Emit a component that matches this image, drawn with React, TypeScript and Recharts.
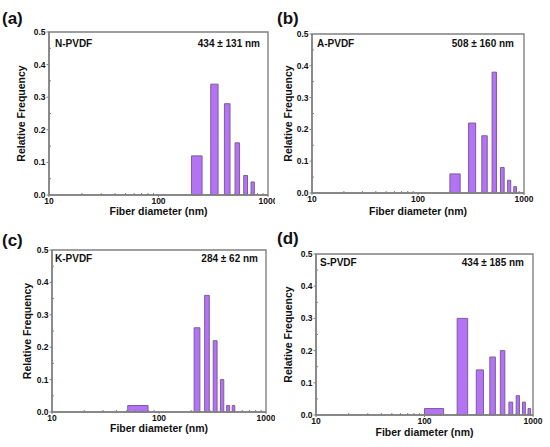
import React from 'react';
import { ComposedChart, XAxis, YAxis, ReferenceArea } from 'recharts';

// ---- data ----
const nStarts = [200, 300, 400, 500, 600, 700];
const nFreq = [0.12, 0.34, 0.28, 0.16, 0.06, 0.04];

const aStarts = [200, 300, 400, 500, 600, 700, 800];
const aFreq = [0.06, 0.22, 0.18, 0.38, 0.08, 0.04, 0.02];

const kStarts = [51, 213, 267, 321, 375, 429, 483];
const kFreq = [0.02, 0.26, 0.36, 0.22, 0.1, 0.02, 0.02];

const sStarts = [100, 200, 300, 400, 500, 600, 700, 800, 900];
const sFreq = [0.02, 0.3, 0.14, 0.18, 0.2, 0.04, 0.06, 0.04, 0.02];

const xTicks = [10, 20, 30, 40, 50, 60, 70, 80, 90, 100, 200, 300, 400, 500, 600, 700, 800, 900, 1000];
const xMajor = [10, 100, 1000];
const yTicks = [0, 0.05, 0.1, 0.15, 0.2, 0.25, 0.3, 0.35, 0.4, 0.45, 0.5];

const FONT = '"Liberation Sans", Arial, sans-serif';
const FILL = '#b473f5';
const STROKE = '#7d5c9c';
const FRAME = '#808080';
const TEXT = '#111';
const FRAME_W = 1.4;

const XTick = (props: any) => {
  const { x, y, payload } = props;
  const v = payload.value;
  const major = xMajor.includes(v);
  return (
    <g>
      <line x1={x} x2={x} y1={y} y2={major ? y + 2 : y - 2} stroke={FRAME} strokeWidth={1} />
      {major && (
        <text x={x} y={y + 3} dy="0.71em" textAnchor="middle" fontSize={8.5} fontWeight="bold" fontFamily={FONT} fill={TEXT}>
          {v}
        </text>
      )}
    </g>
  );
};

const YTick = (props: any) => {
  const { x, y, payload } = props;
  const v = payload.value;
  const major = Math.abs(v * 10 - Math.round(v * 10)) < 1e-6;
  return (
    <g>
      <line x1={x} x2={major ? x - 2.5 : x + 2} y1={y} y2={y} stroke={FRAME} strokeWidth={1} />
      {major && (
        <text x={x - 3.5} y={y} dy="0.35em" textAnchor="end" fontSize={8.5} fontWeight="bold" fontFamily={FONT} fill={TEXT}>
          {v.toFixed(1)}
        </text>
      )}
    </g>
  );
};

type PanelProps = {
  left: number; top: number; width: number; height: number;
  pl: number; pr: number; pt: number; pb: number;
  xBase: number; yLabelX: number;
  starts: number[]; freqs: number[]; barW: number;
};

const Panel = (p: PanelProps) => {
  const rows = p.starts.map((s, i) => ({ start: s, freq: p.freqs[i] }));
  const margin = {
    top: p.pt - p.top,
    right: p.left + p.width - p.pr,
    left: 0,
    bottom: p.top + p.height - p.xBase,
  };
  const line = { stroke: FRAME, strokeWidth: FRAME_W };
  return (
    <div style={{ position: 'absolute', left: p.left, top: p.top, width: p.width, height: p.height }}>
      <ComposedChart width={p.width} height={p.height} data={rows} margin={margin}>
        <XAxis
          dataKey="start"
          type="number"
          scale="log"
          domain={[10, 1000]}
          allowDataOverflow
          axisLine={line}
          height={p.xBase - p.pb}
          ticks={xTicks}
          interval={0}
          tickSize={0}
          tickMargin={0}
          tickLine={false}
          tick={<XTick />}
          label={{
            value: 'Fiber diameter (nm)',
            position: 'insideBottom',
            offset: 0,
            style: { fontSize: 10.5, fontWeight: 'bold', fontFamily: FONT, fill: TEXT },
          }}
        />
        <YAxis
          type="number"
          domain={[0, 0.5]}
          allowDataOverflow
          axisLine={line}
          width={p.pl - p.left}
          ticks={yTicks}
          interval={0}
          tickSize={0}
          tickMargin={0}
          tickLine={false}
          tick={<YTick />}
          label={{
            value: 'Relative Frequency',
            angle: -90,
            position: 'insideLeft',
            offset: p.yLabelX - p.left,
            style: { textAnchor: 'middle', fontSize: 10.5, fontWeight: 'bold', fontFamily: FONT, fill: TEXT },
          }}
        />
        {rows.map((r, i) => (
          <ReferenceArea
            key={i}
            x1={r.start}
            x2={r.start + p.barW}
            y1={0}
            y2={r.freq}
            fill={FILL}
            fillOpacity={1}
            stroke={STROKE}
            strokeWidth={1}
            ifOverflow="visible"
          />
        ))}
        <ReferenceArea x1={10} x2={1000} y1={0} y2={0.5} fill="none" fillOpacity={0} stroke={FRAME} strokeWidth={FRAME_W} ifOverflow="visible" />
      </ComposedChart>
    </div>
  );
};

type T = { t: string; x: number; y: number; size: number; anchor: string };

// HTML text positioned by its baseline
const HText = ({ o }: { o: T }) => {
  const top = o.y - 0.8465 * o.size;
  const style: React.CSSProperties = {
    position: 'absolute', top, fontSize: o.size, fontWeight: 'bold', fontFamily: FONT, color: TEXT,
    lineHeight: 1, whiteSpace: 'nowrap',
  };
  if (o.anchor === 'end') style.right = 550 - o.x;
  else style.left = o.x;
  return <div style={style}>{o.t}</div>;
};

const texts: T[] = [
  { t: '(a)', x: 2, y: 24, size: 17, anchor: 'start' },
  { t: '(b)', x: 277, y: 24, size: 17, anchor: 'start' },
  { t: '(c)', x: 2, y: 246, size: 17, anchor: 'start' },
  { t: '(d)', x: 277, y: 244, size: 17, anchor: 'start' },
  { t: 'N-PVDF', x: 55, y: 47, size: 10, anchor: 'start' },
  { t: '434 ± 131 nm', x: 260, y: 47, size: 10, anchor: 'end' },
  { t: 'A-PVDF', x: 317, y: 47, size: 10, anchor: 'start' },
  { t: '508 ± 160 nm', x: 514, y: 47, size: 10, anchor: 'end' },
  { t: 'K-PVDF', x: 55, y: 262, size: 10, anchor: 'start' },
  { t: '284 ± 62 nm', x: 258, y: 262, size: 10, anchor: 'end' },
  { t: 'S-PVDF', x: 320, y: 266, size: 10, anchor: 'start' },
  { t: '434 ± 185 nm', x: 524, y: 266, size: 10, anchor: 'end' },
];

export default function App() {
  return (
    <div style={{ position: 'absolute', left: 0, top: 0, width: 550, height: 447, background: '#fff' }}>
      {texts.map((o, i) => <HText key={i} o={o} />)}
      <Panel left={0} top={0} width={275} height={222} pl={49} pr={268} pt={32} pb={195} xBase={215} yLabelX={21}
        starts={nStarts} freqs={nFreq} barW={50} />
      <Panel left={275} top={0} width={275} height={222} pl={312} pr={524} pt={34} pb={193} xBase={215} yLabelX={288}
        starts={aStarts} freqs={aFreq} barW={50} />
      <Panel left={0} top={222} width={275} height={225} pl={52} pr={266} pt={250} pb={412} xBase={432} yLabelX={27}
        starts={kStarts} freqs={kFreq} barW={28} />
      <Panel left={275} top={222} width={275} height={225} pl={316} pr={533} pt={254} pb={415} xBase={436} yLabelX={288}
        starts={sStarts} freqs={sFreq} barW={50} />
    </div>
  );
}
